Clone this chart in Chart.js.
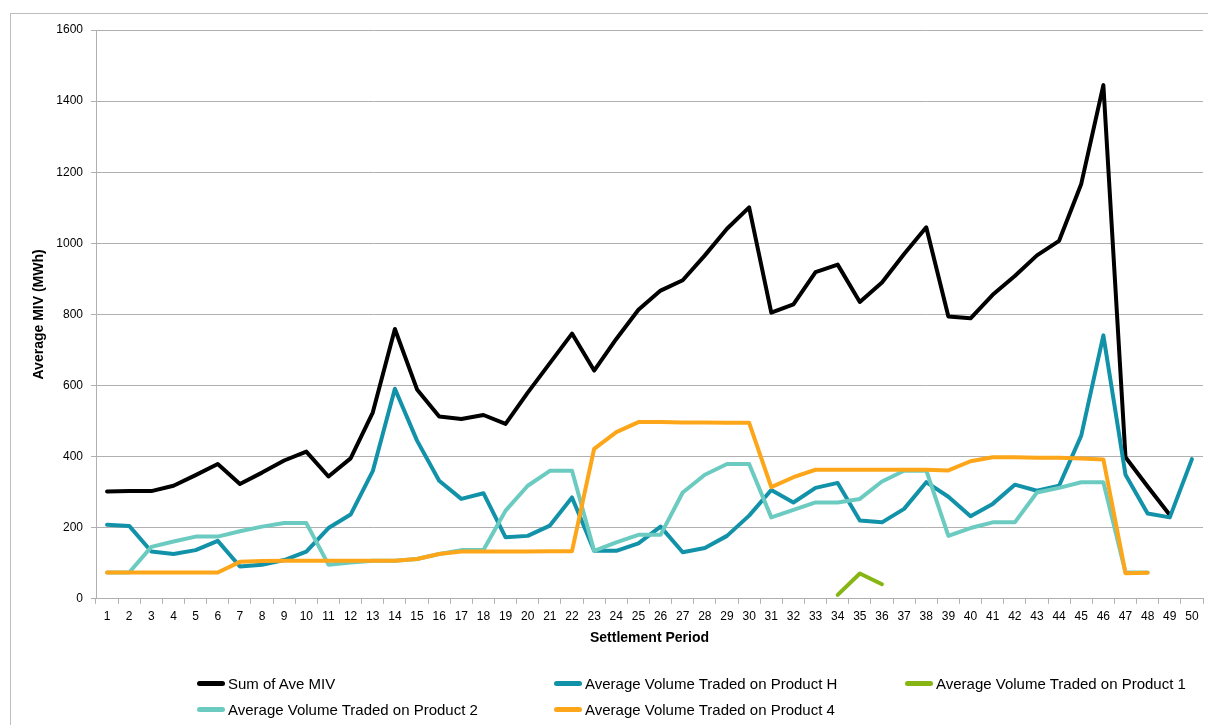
<!DOCTYPE html>
<html>
<head>
<meta charset="utf-8">
<script src="https://cdn.jsdelivr.net/npm/chart.js@4"></script>
<style>
    html, body { margin: 0; padding: 0; background: #fff; }
    body { width: 1208px; height: 725px; position: relative; overflow: hidden; font-family: 'Liberation Sans', Arial, sans-serif; }
    .frame { position: absolute; left: 10px; top: 13px; width: 1220px; height: 740px; border: 1px solid #bdbdbd; box-sizing: border-box; }
    #chart-wrap { position: absolute; left: 0; top: 0; width: 1208px; height: 725px; }
    .legend { position: absolute; left: 0; top: 0; width: 1208px; height: 725px; pointer-events: none; }
    .legend-item { position: absolute; display: flex; align-items: center; font-size: 15px; color: #000; white-space: nowrap; }
    .legend-item .swatch { width: 28px; height: 5px; border-radius: 3px; margin-right: 3px; }
</style>
</head>
<body>
<div class="frame"></div>
<div id="chart-wrap"><canvas id="miv-chart" width="1208" height="725"></canvas></div>
<div class="legend" id="legend"></div>
<script>
// Settlement periods 1..50
const periods = Array.from({ length: 50 }, (_, i) => String(i + 1));

const sumAveMiv = [
    302, 303, 303, 318, 348, 379, 323, 355, 389, 414,
    344, 395, 524, 759, 589, 513, 506, 517, 492, 580,
    663, 746, 642, 731, 813, 867, 896, 966, 1041, 1101,
    805, 828, 919, 940, 835, 890, 970, 1045, 794, 789,
    855, 908, 966, 1007, 1167, 1445, 398, 316, 236, null
];

const productH = [
    208, 205, 133, 126, 137, 163, 91, 96, 109, 133,
    199, 237, 359, 591, 445, 332, 281, 297, 173, 177,
    206, 285, 135, 135, 156, 203, 131, 143, 177, 234,
    306, 271, 312, 326, 220, 215, 253, 328, 287, 232,
    267, 321, 304, 318, 459, 741, 349, 240, 229, 393
];

const product1 = [
    null, null, null, null, null, null, null, null, null, null,
    null, null, null, null, null, null, null, null, null, null,
    null, null, null, null, null, null, null, null, null, null,
    null, null, null, 11, 71, 41, null, null, null, null,
    null, null, null, null, null, null, null, null, null, null
];

const product2 = [
    74, 74, 146, 161, 175, 175, 190, 203, 213, 213,
    96, 102, 107, 107, 112, 126, 137, 137, 248, 318,
    360, 360, 135, 159, 180, 180, 299, 349, 379, 379,
    229, 250, 271, 271, 281, 330, 360, 361, 177, 199,
    215, 215, 299, 312, 328, 328, 74, 74, null, null
];

const product4 = [
    74, 74, 74, 74, 74, 74, 104, 106, 107, 107,
    107, 107, 107, 107, 112, 126, 133, 133, 133, 133,
    134, 134, 422, 469, 497, 497, 496, 496, 495, 495,
    314, 342, 363, 363, 363, 363, 363, 363, 361, 387,
    398, 398, 397, 397, 395, 392, 72, 73, null, null
];

const yTicks = [0, 200, 400, 600, 800, 1000, 1200, 1400, 1600];

const series = [
    { label: 'Sum of Ave MIV', data: sumAveMiv, color: '#000000', order: 5 },
    { label: 'Average Volume Traded on Product H', data: productH, color: '#1292a9', order: 4 },
    { label: 'Average Volume Traded on Product 1', data: product1, color: '#86b514', order: 3 },
    { label: 'Average Volume Traded on Product 2', data: product2, color: '#6ccbc1', order: 2 },
    { label: 'Average Volume Traded on Product 4', data: product4, color: '#fda619', order: 1 },
];

// legend slots (grid like the spreadsheet legend)
const legendPos = [
    { x: 197, y: 683 }, { x: 554, y: 683 }, { x: 905, y: 683 },
    { x: 197, y: 709 }, { x: 554, y: 709 },
];

const gridColor = '#b0b0b0';
const tickFont = { family: "'Liberation Sans', Arial, sans-serif", size: 12 };
const titleFont = { family: "'Liberation Sans', Arial, sans-serif", size: 14, weight: 'bold' };

const config = {
    type: 'line',
    data: {
        labels: periods,
        datasets: series.map(s => ({
            label: s.label,
            data: s.data,
            borderColor: s.color,
            backgroundColor: s.color,
            borderWidth: 4,
            borderJoinStyle: 'round',
            borderCapStyle: 'round',
            pointRadius: 0,
            pointHoverRadius: 0,
            tension: 0,
            spanGaps: false,
            fill: false,
            order: s.order,
        }))
    },
    options: {
        responsive: false,
        animation: false,
        layout: { padding: { left: 20, right: 5, top: 30, bottom: 78 } },
        plugins: {
            legend: { display: false },
            tooltip: { enabled: false },
        },
        scales: {
            x: {
                offset: true,
                grid: { offset: true, drawOnChartArea: false, color: gridColor, tickLength: 5 },
                border: { color: gridColor },
                ticks: { font: tickFont, color: '#000', padding: 6, maxRotation: 0, autoSkip: false },
                title: { display: true, text: 'Settlement Period', font: titleFont, color: '#000', padding: { top: 0, bottom: 0 } },
            },
            y: {
                min: 0,
                max: 1600,
                afterBuildTicks: scale => { scale.ticks = yTicks.map(v => ({ value: v })); },
                afterFit: scale => { scale.width = 76; },
                grid: { color: gridColor, tickLength: 5 },
                border: { color: gridColor },
                ticks: { font: tickFont, color: '#000', padding: 8, callback: v => String(v) },
                title: { display: true, text: 'Average MIV (MWh)', font: titleFont, color: '#000', padding: { top: 11, bottom: 0 } },
            }
        }
    }
};

new Chart(document.getElementById('miv-chart'), config);

// HTML legend
const legendEl = document.getElementById('legend');
series.forEach((s, i) => {
    const p = legendPos[i];
    const item = document.createElement('div');
    item.className = 'legend-item';
    item.style.left = p.x + 'px';
    item.style.top = (p.y - 9) + 'px';
    item.style.height = '18px';
    item.innerHTML = `<span class="swatch" style="background:${s.color}"></span><span>${s.label}</span>`;
    legendEl.appendChild(item);
});
</script>
</body>
</html>
